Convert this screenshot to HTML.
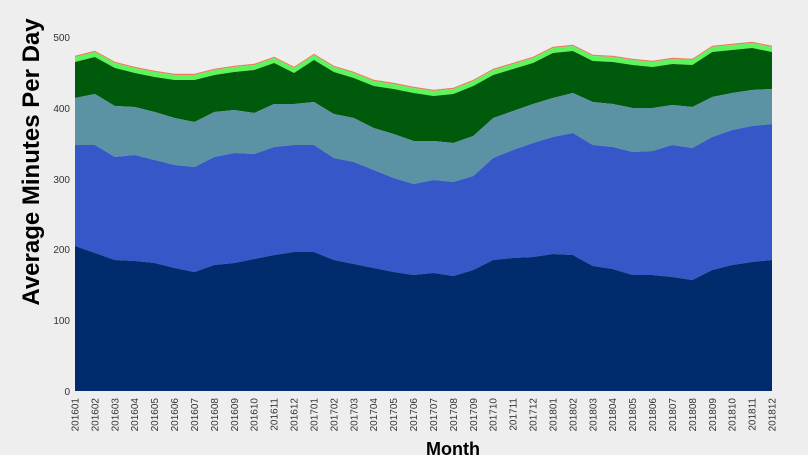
<!DOCTYPE html>
<html><head><meta charset="utf-8"><style>
html,body{margin:0;padding:0;background:#eeeeee;}
svg{display:block;font-family:"Liberation Sans",Arial,sans-serif;}
</style></head><body>
<svg id="s" width="808" height="455" viewBox="0 0 808 455" xmlns="http://www.w3.org/2000/svg">
<rect width="808" height="455" fill="#eeeeee"/>
<g id="areas"></g>
<g id="ticks" font-size="10" fill="#333"></g>
<text x="70" y="41" font-size="10" fill="#333" text-anchor="end">500</text>
<text x="70" y="112" font-size="10" fill="#333" text-anchor="end">400</text>
<text x="70" y="183" font-size="10" fill="#333" text-anchor="end">300</text>
<text x="70" y="253" font-size="10" fill="#333" text-anchor="end">200</text>
<text x="70" y="324" font-size="10" fill="#333" text-anchor="end">100</text>
<text x="70" y="395" font-size="10" fill="#333" text-anchor="end">0</text>
<text transform="translate(39,162) rotate(-90)" font-size="24" font-weight="bold" fill="#000" text-anchor="middle">Average Minutes Per Day</text>
<text x="453" y="455" font-size="18" font-weight="bold" fill="#000" text-anchor="middle">Month</text>
</svg>
<script>
var x0=75,x1=772,base=391,n=36;
var L1=[246,253,260,261,263,268,272,265,263,259,255,252,252,260,264,268,272,275,273,276,270,260,258,257,254,255,266,269,275,275,277,280,270,265,262,260];
var L2=[145,145,157,155,160,165,167,157,153,154,147,145,145,158,162,170,178,184,180,182,176,158,150,143,137,133,145,147,152,151,145,148,137,130,126,124];
var L3=[98,94,106,107,112,118,122,112,110,113,104,104,102,114,118,128,134,141,141,143,136,118,111,104,98,93,102,104,108,108,105,107,97,93,90,89];
var L4=[62,57,68,73,77,80,80,75,72,70,63,73,60,72,78,86,89,93,96,94,86,75,69,63,53,51,61,62,65,67,64,65,52,50,48,52];
var L5=L4.map(function(v){return v-5;});
var L6=L5.map(function(v){return v-1.2;});
function X(i){return x0+(x1-x0)*i/(n-1);}
function area(top,bot,col){
 var d="M"+X(0)+","+top[0];
 for(var i=1;i<n;i++)d+="L"+X(i)+","+top[i];
 for(var i=n-1;i>=0;i--)d+="L"+X(i)+","+(bot?bot[i]:base);
 return '<path d="'+d+'Z" fill="'+col+'"/>';
}
var b=Array(n).fill(base);
var h=area(L6,L5,"#f07a60")+area(L5,L4,"#5cf55c")+area(L4,L3,"#005a0c")+area(L3,L2,"#5b93a4")+area(L2,L1,"#3557c8")+area(L1,b,"#002b6c");
document.getElementById("areas").innerHTML=h;
var t="";
for(var i=0;i<n;i++){var y=2016+Math.floor(i/12),m=(i%12)+1;var lab=y+(m<10?"0":"")+m;
t+='<text transform="translate('+(X(i)+3.5)+',398) rotate(-90)" text-anchor="end">'+lab+'</text>';}
document.getElementById("ticks").innerHTML=t;
</script>
</body></html>
